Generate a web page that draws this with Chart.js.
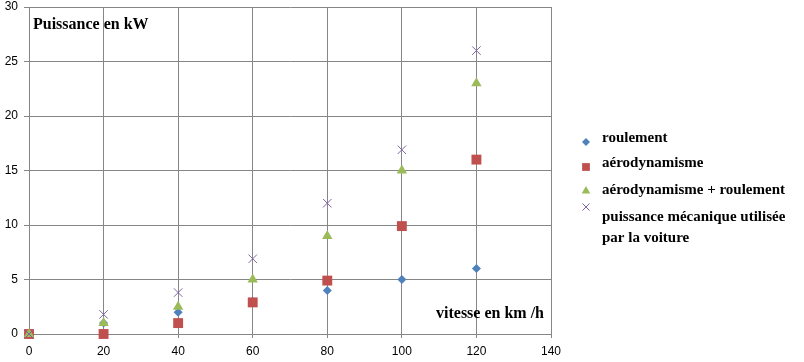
<!DOCTYPE html>
<html><head><meta charset="utf-8">
<script src="https://cdn.jsdelivr.net/npm/chart.js@4.4.0/dist/chart.umd.min.js"></script>
<style>html,body{margin:0;padding:0;background:#fff}#wrap{width:804px;height:362px}</style>
</head><body><div id="wrap"><canvas id="c" width="804" height="362"></canvas></div>
<script>
const speeds = [0, 20, 40, 60, 80, 100, 120];
const roulement = [0, 1, 2, 3, 4, 5, 6];
const aerodynamisme = [0, 0, 1, 2.9, 4.9, 9.9, 16];
const aeroPlusRoulement = [0, 1, 2.5, 5, 9, 15, 23];
const puissanceMecanique = [0, 1.8, 3.8, 6.9, 12, 16.9, 26];
const seriesNames = ['roulement', 'aérodynamisme', 'aérodynamisme + roulement', ['puissance mécanique utilisée', 'par la voiture']];
const yTitle = 'Puissance en kW';
const xTitle = 'vitesse en km /h';

const colors = ['#4F81BD', '#C0504D', '#9BBB59', '#8064A2'];
const styles = ['rectRot', 'rect', 'triangle', 'crossRot'];
const radii = [4.5, 7, 6, 6];
const values = [roulement, aerodynamisme, aeroPlusRoulement, puissanceMecanique];

const datasets = values.map((vals, i) => ({
  label: Array.isArray(seriesNames[i]) ? seriesNames[i].join(' ') : seriesNames[i],
  data: speeds.map((x, k) => ({x: x, y: vals[k]})),
  pointStyle: styles[i],
  pointRadius: radii[i],
  pointHoverRadius: radii[i],
  backgroundColor: colors[i],
  borderColor: colors[i],
  borderWidth: i === 3 ? 1 : 0,
  showLine: false,
  clip: false,
  order: 3 - i
}));

const overlay = {
  id: 'overlay',
  afterDraw(chart) {
    const ctx = chart.ctx;
    ctx.save();
    ctx.fillStyle = '#000';
    ctx.textBaseline = 'middle';
    ctx.textAlign = 'left';
    ctx.font = 'bold 16px "Liberation Serif", "Times New Roman", serif';
    ctx.fillText(yTitle, 33, 25);
    ctx.fillText(xTitle, 436, 314);
    ctx.restore();
    const rows = [138, 163, 190, 217];
    const mk = [142, 167, 191, 207];
    const mr = [4, 5.5, 5, 5];
    seriesNames.forEach((n, i) => {
      ctx.save();
      ctx.fillStyle = colors[i]; ctx.strokeStyle = colors[i]; ctx.lineWidth = 1;
      Chart.helpers.drawPoint(ctx, {pointStyle: styles[i], radius: mr[i], rotation: 0, borderWidth: i === 3 ? 1 : 0}, 586, mk[i]);
      ctx.fillStyle = '#000';
      ctx.textBaseline = 'middle';
      ctx.textAlign = 'left';
      ctx.font = 'bold 15px "Liberation Serif", "Times New Roman", serif';
      const lines = Array.isArray(n) ? n : [n];
      lines.forEach((t, j) => ctx.fillText(t, 602, rows[i] + j * 21));
      ctx.restore();
    });
  }
};

new Chart(document.getElementById('c'), {
  type: 'scatter',
  data: {datasets},
  options: {
    responsive: false,
    animation: false,
    layout: {padding: {top: 4, right: 253, left: 0, bottom: 0}},
    plugins: {legend: {display: false}, tooltip: {enabled: false}},
    scales: {
      x: {
        type: 'linear', min: 0, max: 140,
        ticks: {stepSize: 20, color: '#000', font: {family: '"Liberation Sans", Arial, sans-serif', size: 12}, padding: 6},
        grid: {color: '#868686', tickLength: 4, lineWidth: 1},
        border: {color: '#868686'},
        afterFit(s) { s.height = 28; }
      },
      y: {
        min: 0, max: 30,
        ticks: {stepSize: 5, color: '#000', font: {family: '"Liberation Sans", Arial, sans-serif', size: 12}, padding: 6},
        grid: {color: '#868686', tickLength: 5, lineWidth: 1},
        border: {color: '#868686'},
        afterFit(s) { s.width = 29; s.paddingTop = 0; s.paddingBottom = 0; }
      }
    }
  },
  plugins: [overlay]
});
</script></body></html>
